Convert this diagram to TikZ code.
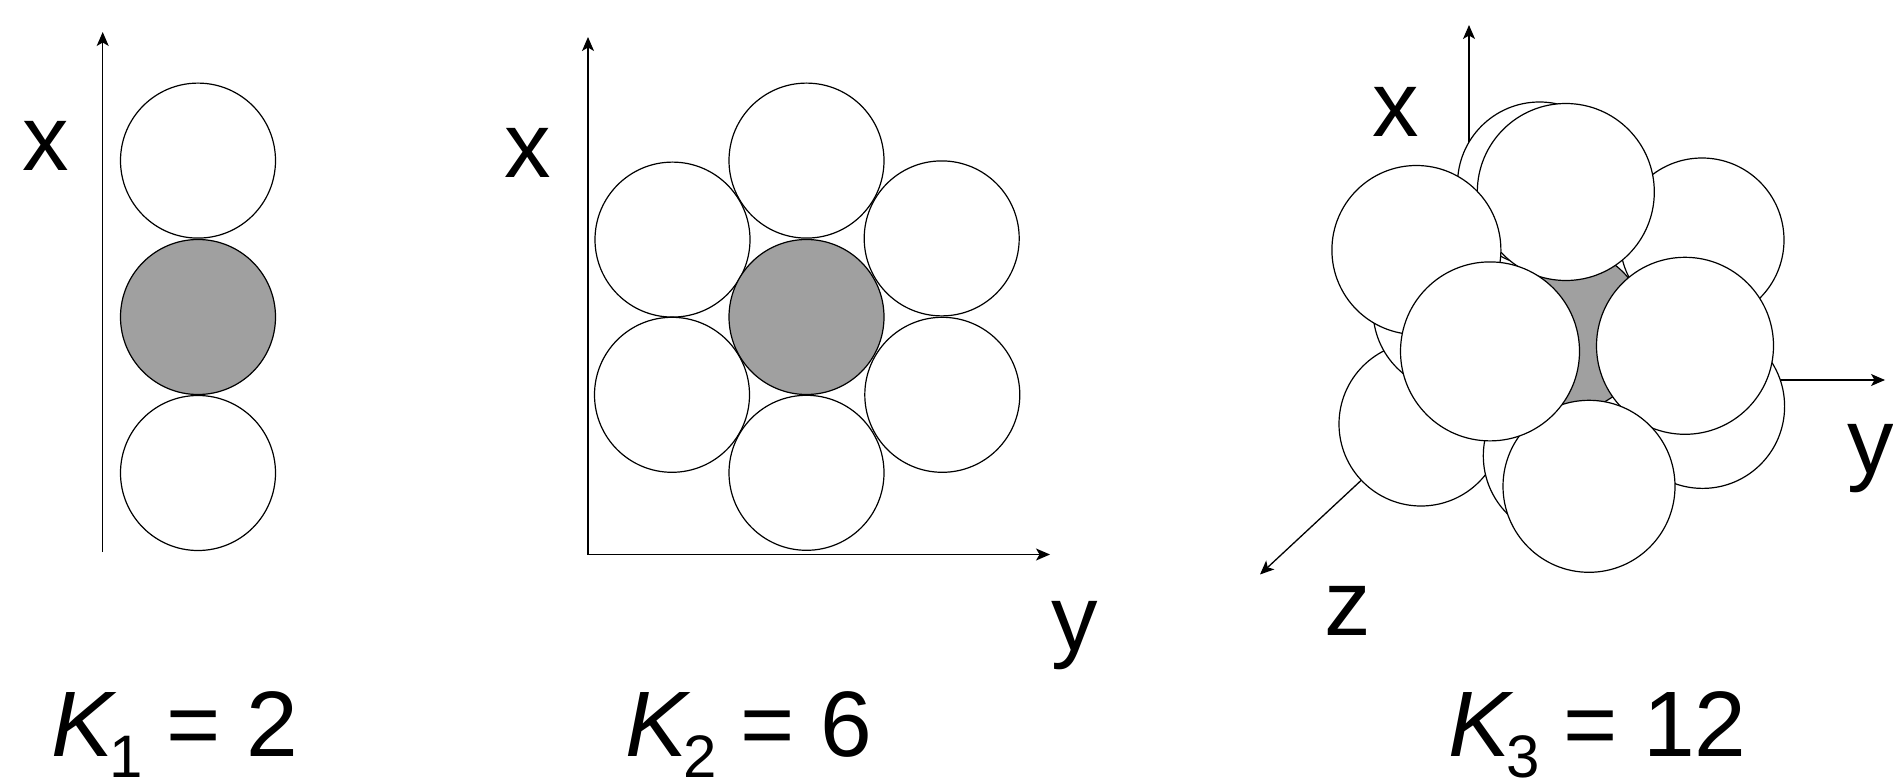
\documentclass[tikz,border=0pt]{standalone}
\usepackage{fontspec}
\setmainfont{Liberation Sans}
\usetikzlibrary{arrows.meta}
\tikzset{
  ball/.style={circle,draw=black,fill=white,line width=1.2pt,inner sep=0pt,outer sep=0pt,minimum size=#1pt},
  ball/.default=155,
  core/.style={ball=#1,fill=coregray},
  core/.default=155,
  axisline/.style={draw=black,line width=1.3pt,-{Stealth[length=14pt,width=12pt,inset=3.5pt]}},
  lab/.style={anchor=base west,inner sep=0pt,outer sep=0pt,font=\fontsize{93}{93}\selectfont},
}
\definecolor{coregray}{HTML}{A0A0A0}
\newcommand{\subd}[1]{\hspace{-7pt}\raisebox{-21pt}{\fontsize{60}{60}\selectfont #1}}
\begin{document}
\begin{tikzpicture}[x=1pt,y=-1pt]
\useasboundingbox (0,0) rectangle (1893,781);
% panel 1
\coordinate (a1b) at (102.7,552);
\coordinate (a1t) at (102.7,32);
\draw[axisline] (a1b) -- (a1t);
\node[ball] (p1top) at (198,160.6) {};
\node[ball] (p1bot) at (198,473) {};
\node[core] (p1mid) at (198,317) {};
\node[lab] (p1x) at (22,170.5) {x};
\node[lab] (p1k) at (51,756.7) {\textit{K}\subd{1}\hspace{-2.5pt} = 2};
% panel 2
\coordinate (a2o) at (588,554.5);
\coordinate (a2t) at (588,37);
\coordinate (a2r) at (1050,554.5);
\draw[axisline] (a2o) -- (a2t);
\draw[axisline] (a2o) -- (a2r);
\node[ball] (p2a) at (806.5,160.6) {};
\node[ball] (p2b) at (672.5,239.6) {};
\node[ball] (p2c) at (941.7,238.4) {};
\node[ball] (p2d) at (672,394.8) {};
\node[ball] (p2e) at (942.3,394.8) {};
\node[ball] (p2f) at (806.5,472.8) {};
\node[core] (p2m) at (806.5,317) {};
\node[lab] (p2x) at (504,177) {x};
\node[lab] (p2y) at (1051,650) {y};
\node[lab] (p2k) at (625,756.7) {\textit{K}\subd{2}\hspace{-2.5pt} = 6};
% panel 3
\coordinate (a3o) at (1469,380);
\coordinate (a3t) at (1469,25);
\coordinate (a3r) at (1885,380);
\coordinate (a3z) at (1260,574.5);
\draw[axisline] (a3o) -- (a3t);
\draw[axisline] (a3o) -- (a3r);
\draw[axisline] (a3o) -- (a3z);
\node[ball=164] (b1) at (1702.6,406.4) {};
\node[ball=164] (b2) at (1702,240) {};
\node[ball=164] (b3) at (1421,424) {};
\node[ball=164] (b4) at (1455,310) {};
\node[ball=164] (b5) at (1565.3,455.8) {};
\node[ball=164] (b6) at (1539.5,184) {};
\node[core=164] (c) at (1565,330) {};
\node[ball=177] (f1) at (1565.8,192) {};
\node[ball=169] (f2) at (1416.4,250) {};
\node[ball=177] (f3) at (1685,345.8) {};
\node[ball=172] (f4) at (1589,486.3) {};
\node[ball=179] (f5) at (1490,351.4) {};
\node[lab] (p3x) at (1372,137) {x};
\node[lab] (p3y) at (1847.5,473) {y};
\node[lab] (p3z) at (1324,635) {z};
\node[lab] (p3k) at (1448,756.7) {\textit{K}\subd{3}\hspace{-2.5pt} = 12};
\end{tikzpicture}
\end{document}
